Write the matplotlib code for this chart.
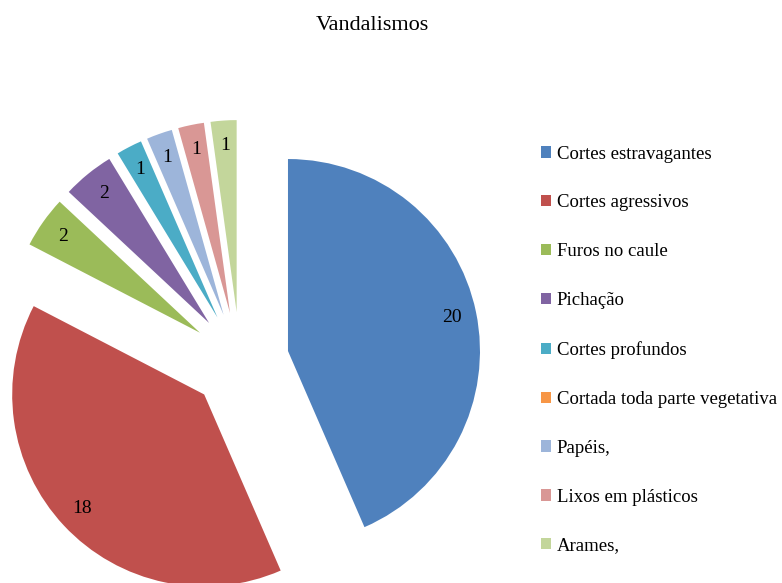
import matplotlib.pyplot as plt
from matplotlib.patches import Patch

plt.rcParams['font.family'] = ['Liberation Serif', 'DejaVu Serif']

# Dados
categorias = ['Cortes estravagantes', 'Cortes agressivos', 'Furos no caule', 'Pichação',
              'Cortes profundos', 'Cortada toda parte vegetativa', 'Papéis,',
              'Lixos em plásticos', 'Arames,']
valores = [20, 18, 2, 2, 1, 0, 1, 1, 1]
cores = ['#4F81BD', '#C0504D', '#9BBB59', '#8064A2', '#4BACC6', '#F79646',
         '#9DB5DA', '#D99795', '#C3D69B']

W, H = 782, 583
fig = plt.figure(figsize=(W / 100, H / 100), dpi=100)
ax = fig.add_axes([0, 0, 1, 1])

# rótulos só para fatias não nulas
rotulos = [str(v) if v > 0 else '' for v in valores]

# explode em unidades de dados (pixels aqui)
raio = 192
wedges, texts = ax.pie(valores, colors=cores, labels=rotulos, startangle=90,
                       counterclock=False, explode=[49] * len(valores),
                       center=(240, H - 361), radius=raio, labeldistance=0.87,
                       wedgeprops={'linewidth': 0},
                       textprops={'fontsize': 14, 'ha': 'center', 'va': 'center'})
ax.set_xlim(0, W)
ax.set_ylim(0, H)
ax.set_aspect('auto')
ax.axis('off')

fig.text(372 / W, 1 - 25 / H, 'Vandalismos', ha='center', va='center', fontsize=16)

handles = [Patch(facecolor=c, edgecolor='none') for c in cores]
fig.legend(handles, categorias, loc='center left', bbox_to_anchor=(541 / W, 1 - 350 / H),
           frameon=False, fontsize=13.5, handlelength=0.55, handleheight=0.55,
           handletextpad=0.3, labelspacing=1.70, borderpad=0, borderaxespad=0)

plt.savefig('out.png', dpi=100)
